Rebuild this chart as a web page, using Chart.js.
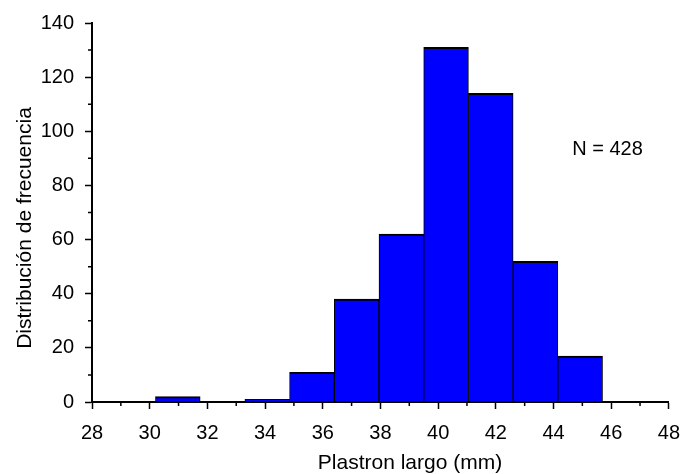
<!DOCTYPE html>
<html>
<head>
<meta charset="utf-8">
<script src="https://cdn.jsdelivr.net/npm/chart.js@4/dist/chart.umd.min.js"></script>
<style>
  html, body { margin: 0; padding: 0; background: #ffffff; }
  canvas { display: block; }
</style>
</head>
<body>
<canvas id="hist" width="692" height="474"></canvas>
<script>
// Histogram of plastron length (mm): bin edges and counts per bin
const binEdges = [30.2, 31.75, 33.3, 34.85, 36.4, 37.95, 39.5, 41.05, 42.6, 44.15, 45.7];
const counts = [2, 0, 1, 11, 38, 62, 131, 114, 52, 17];

// Axis ranges and tick spacing
const xRange = [28, 48];
const xMajorStep = 2;
const xMinorTicks = [29, 31, 33, 35, 37, 39, 41, 43, 45, 47];
const yRange = [0, 140];
const yMajorStep = 20;
const yMinorTicks = [10, 30, 50, 70, 90, 110, 130];

// Text
const xTitle = 'Plastron largo (mm)';
const yTitle = 'Distribución de frecuencia';
const sampleNote = 'N = 428';
const notePos = { x: 44.65, y: 91.3 };

const FONT = '"Liberation Sans", Arial, Helvetica, sans-serif';

// One point per bin, placed at the bin centre on a linear x scale
const points = counts.map((c, i) => ({ x: (binEdges[i] + binEdges[i + 1]) / 2, y: c }));

const decorations = {
  id: 'decorations',
  afterDraw(chart) {
    const { ctx, chartArea, scales } = chart;
    const xs = scales.x, ys = scales.y;
    ctx.save();
    ctx.strokeStyle = '#000';
    ctx.lineWidth = 1.5;
    // minor ticks
    ctx.beginPath();
    xMinorTicks.forEach(v => {
      const px = xs.getPixelForValue(v);
      ctx.moveTo(px, chartArea.bottom);
      ctx.lineTo(px, chartArea.bottom + 4);
    });
    yMinorTicks.forEach(v => {
      const py = ys.getPixelForValue(v);
      ctx.moveTo(chartArea.left - 4, py);
      ctx.lineTo(chartArea.left, py);
    });
    ctx.stroke();

    ctx.fillStyle = '#000';
    // sample size note
    ctx.font = '20px ' + FONT;
    ctx.textAlign = 'left';
    ctx.textBaseline = 'alphabetic';
    ctx.fillText(sampleNote, xs.getPixelForValue(notePos.x), ys.getPixelForValue(notePos.y));

    // axis titles
    ctx.font = '21px ' + FONT;
    ctx.textAlign = 'center';
    ctx.fillText(xTitle, 410, 468.5);
    ctx.translate(31, 228);
    ctx.rotate(-Math.PI / 2);
    ctx.fillText(yTitle, 0, 0);
    ctx.restore();
  }
};

new Chart(document.getElementById('hist'), {
  type: 'bar',
  data: {
    datasets: [{
      data: points,
      backgroundColor: '#0000ff',
      borderColor: '#000000',
      borderWidth: { top: 2, left: 1, right: 1, bottom: 0 },
      borderSkipped: false,
      categoryPercentage: 1.0,
      barPercentage: 1.0
    }]
  },
  options: {
    responsive: false,
    devicePixelRatio: 1,
    animation: false,
    layout: { padding: { top: 17, right: 23, left: 0, bottom: 0 } },
    plugins: { legend: { display: false }, tooltip: { enabled: false } },
    scales: {
      x: {
        type: 'linear',
        min: xRange[0],
        max: xRange[1],
        offset: false,
        z: 1,
        afterFit(scale) { scale.height = 72; },
        ticks: {
          stepSize: xMajorStep,
          color: '#000',
          padding: 12,
          maxRotation: 0,
          font: { family: FONT, size: 20 }
        },
        grid: { offset: false, drawOnChartArea: false, drawTicks: true, tickLength: 7, tickWidth: 1.5, tickColor: '#000' },
        border: { display: true, color: '#000', width: 2 }
      },
      y: {
        min: yRange[0],
        max: yRange[1],
        z: 1,
        afterFit(scale) { scale.width = 92; },
        ticks: {
          stepSize: yMajorStep,
          color: '#000',
          padding: 11,
          font: { family: FONT, size: 20 }
        },
        grid: { drawOnChartArea: false, drawTicks: true, tickLength: 7, tickWidth: 1.5, tickColor: '#000' },
        border: { display: true, color: '#000', width: 2 }
      }
    }
  },
  plugins: [decorations]
});
</script>
</body>
</html>
